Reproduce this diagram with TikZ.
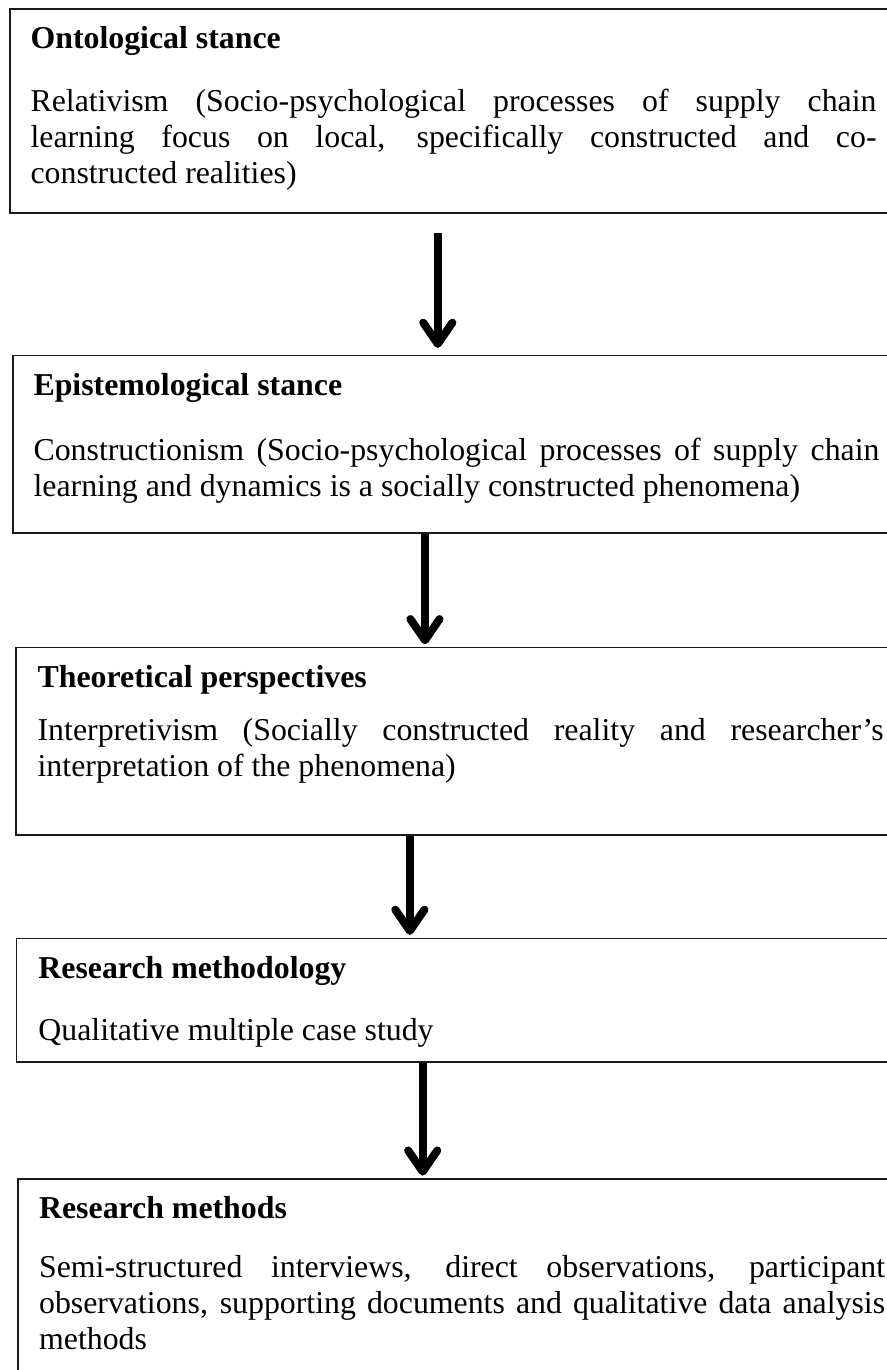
\documentclass[tikz,border=0pt]{standalone}
\usepackage{fontspec}
\setmainfont{Liberation Serif}
\usetikzlibrary{arrows.meta}
\definecolor{rahmen}{HTML}{1A1A1A}
\hyphenpenalty=10000
\exhyphenpenalty=10000
\setlength{\parindent}{0pt}
\newcommand{\kopf}[2][9.45pt]{{\bfseries\strut #2}\par\vspace{#1}}
\tikzset{
  kasten/.style={draw=rahmen,line width=0.6pt,anchor=north west,inner sep=0pt},
  txt/.style={anchor=north west,inner sep=0pt,text width=318.9pt,align=justify,
    font=\fontsize{12}{13.57}\selectfont},
  pfeil/.style={-{Straight Barb[length=8pt,width=11pt,round]},line width=3pt,shorten >=1pt},
}
\begin{document}
\begin{tikzpicture}
  \useasboundingbox (0,0) rectangle (11.75,-18.15);
  % ===== Kaesten =====
  \node[kasten,minimum width=11.81cm,minimum height=2.70cm] (onto) at (0.12,-0.11) {};
  \node[kasten,minimum width=11.77cm,minimum height=2.35cm] (epis) at (0.16,-4.70) {};
  \node[kasten,minimum width=11.73cm,minimum height=2.48cm] (theo) at (0.20,-8.57) {};
  \node[kasten,minimum width=11.71cm,minimum height=1.64cm] (meth) at (0.21,-12.42) {};
  \node[kasten,minimum width=11.70cm,minimum height=3.05cm] (meths) at (0.23,-15.61) {};
  % ===== Texte =====
  \node[txt] (onto-t) at ([xshift=7.9pt,yshift=-5.6pt]onto.north west)
    {\kopf[10.2pt]{Ontological stance}Relativism (Socio-psychological processes of supply chain\linebreak
     learning focus on local, specifically constructed and co-\linebreak constructed realities)};
  \node[txt] (epis-t) at ([xshift=7.9pt,yshift=-5.6pt]epis.north west)
    {\kopf[10.9pt]{Epistemological stance}Constructionism (Socio-psychological processes of supply chain\linebreak
     learning and dynamics is a socially constructed phenomena)};
  \node[txt] (theo-t) at ([xshift=8.3pt,yshift=-5.6pt]theo.north west)
    {\kopf[6.4pt]{Theoretical perspectives}Interpretivism (Socially constructed reality and researcher’s\linebreak
     interpretation of the phenomena)};
  \node[txt] (meth-t) at ([xshift=8.3pt,yshift=-5.6pt]meth.north west)
    {\kopf[9.8pt]{Research methodology}Qualitative multiple case study};
  \node[txt] (meths-t) at ([xshift=8.0pt,yshift=-5.6pt]meths.north west)
    {\kopf[8.7pt]{Research methods}Semi-structured interviews, direct observations, participant\linebreak
     observations, supporting documents and qualitative data analysis\linebreak methods};
  % ===== Pfeile =====
  \coordinate (p1) at (5.80,-3.09);
  \coordinate (p2) at (5.63,0);
  \coordinate (p3) at (5.43,0);
  \coordinate (p4) at (5.60,0);
  \draw[pfeil,shorten >=2.6pt] (p1) -- (p1 |- epis.north);
  \draw[pfeil] (p2 |- epis.south) -- (p2 |- theo.north);
  \draw[pfeil] (p3 |- theo.south) -- (p3 |- meth.north);
  \draw[pfeil] (p4 |- meth.south) -- (p4 |- meths.north);
\end{tikzpicture}
\end{document}
